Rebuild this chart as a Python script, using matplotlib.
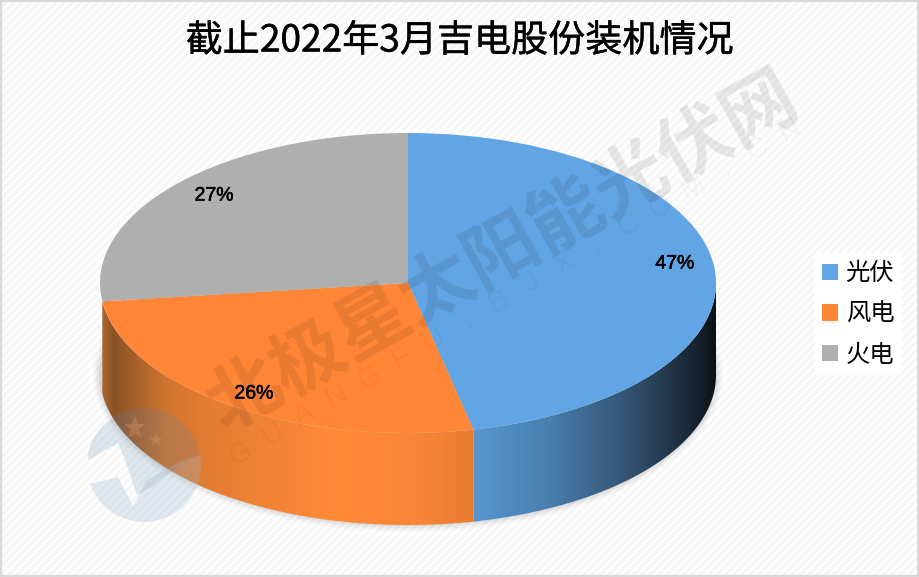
import numpy as np
import matplotlib
matplotlib.use('Agg')
import matplotlib.pyplot as plt
import matplotlib.patheffects as pe
from matplotlib.colors import LinearSegmentedColormap
from matplotlib.patches import Rectangle, Circle, Ellipse, PathPatch
from matplotlib.path import Path
from matplotlib.transforms import Affine2D

plt.rcParams['font.family'] = ['Noto Sans CJK SC', 'DejaVu Sans']
plt.rcParams['hatch.linewidth'] = 2.2

categories = ['光伏', '风电', '火电']
shares = [46.6, 26.45, 26.95]
topColors = ['#62a5e4', '#ff8636', '#afafaf']
title = '截止2022年3月吉电股份装机情况'
watermark = '北极星太阳能光伏网'
watermarkSub = 'GUANGFU.BJX.COM.CN'

# side wall gradients, (position across the wedge, colour)
blueSide = [(0, '#5796ce'), (0.3, '#4a80b0'), (0.65, '#32516f'), (0.88, '#1a2a3a'), (1, '#0a1218')]
orangeSide = [(0, '#a86530'), (0.03, '#8a5226'), (0.17, '#cf752f'), (0.3, '#e67d33'),
              (0.62, '#ff8a38'), (0.85, '#f98637'), (1, '#e87c31')]
sideGradients = [blueSide, orangeSide, None]

W, H = 919, 577
cx, cy, rx, ry = 408, 283, 308, 150
depth = 92 / ry

fig = plt.figure(figsize=(W / 100, H / 100), dpi=100)
# picture pixels, y going down, for the decoration
px = Affine2D().scale(1 / W, -1 / H).translate(0, 1) + fig.transFigure

fig.patches.append(Rectangle((0, 0), W, H, transform=px, facecolor='white', zorder=-2,
                             edgecolor='#f7f7f7', hatch='////', linewidth=0))
fig.patches.append(Rectangle((1, 1), W - 2.5, H - 2.5, transform=px, facecolor='none', zorder=-1,
                             edgecolor='#d9d9d9', linewidth=1.6))

# one data unit is rx pixels across and ry pixels down
ax = fig.add_axes([(cx - 1.25 * rx) / W, 1 - (cy + 2.0 * ry) / H, 2.5 * rx / W, 3.25 * ry / H])
ax.patch.set_alpha(0)

# soft shadow below the wall
for grow, alpha in [(7, 0.02), (5, 0.03), (3, 0.04), (1, 0.05)]:
    ax.add_patch(Ellipse((0, -depth), 2 + grow / rx * 2, 2 + grow / ry * 2, color='black',
                         alpha=alpha, linewidth=0, zorder=0.5))

wedges, texts, autotexts = ax.pie(shares, colors=topColors, startangle=90, counterclock=False,
                                  autopct='%.0f%%', pctdistance=0.875, radius=1,
                                  textprops={'fontsize': 14, 'family': 'Liberation Sans', 'color': 'black'})
for w in wedges:
    w.set_zorder(3)
# small nudges in pixels, the labels do not sit quite on one radius
nudges = [(-1, -5), (2, 4), (8, 0)]
for t, (dx, dy) in zip(autotexts, nudges):
    x, y = t.get_position()
    t.set_position((x + dx / rx, y - dy / ry))
    t.set_zorder(20)
    t.set_path_effects([pe.withStroke(linewidth=0.4, foreground='black')])

# side walls of the wedges that face the viewer
edges = np.cumsum([0] + shares) / sum(shares) * 2 * np.pi
for i, stops in enumerate(sideGradients):
    if stops is None:
        continue
    a0 = max(edges[i], np.pi / 2)
    a1 = min(edges[i + 1], 3 * np.pi / 2)
    t = np.linspace(a0, a1, 200)
    xs, ys = np.sin(t), np.cos(t)
    verts = np.vstack([np.c_[xs, ys], np.c_[xs[::-1], ys[::-1] - depth]])
    wall = PathPatch(Path(np.vstack([verts, verts[0]]), closed=True), transform=ax.transData,
                     facecolor='none', edgecolor='none')
    ax.add_patch(wall)
    x0, x1 = xs.min(), xs.max()
    cmap = LinearSegmentedColormap.from_list('side%d' % i, stops)
    im = ax.imshow(np.linspace(0, 1, 256).reshape(1, -1), cmap=cmap, aspect='auto',
                   extent=(x0, x1, -1 - depth, 1), zorder=2)
    im.set_clip_path(wall)

ax.set_aspect('auto')
ax.set_xlim(-1.25, 1.25)
ax.set_ylim(-2.0, 1.25)
ax.axis('off')

# watermark logo
logoX, logoY, logoR = 144, 465, 57
logoClip = Circle((logoX, logoY), logoR, transform=px)
dome = PathPatch(Path([(80, 400), (210, 400), (210, 452), (180, 465), (150, 488), (137, 495), (125, 460),
                       (118, 443), (88, 460), (80, 400)]),
                 transform=px, facecolor='#5f86ad', alpha=0.2, linewidth=0, zorder=5)
lower = PathPatch(Path([(90, 484), (118, 477), (133, 506), (147, 480), (180, 462), (205, 453), (210, 530),
                        (90, 530), (90, 484)]),
                  transform=px, facecolor='#a0b8d0', alpha=0.3, linewidth=0, zorder=5)
for p in [dome, lower]:
    ax.add_patch(p)
    p.set_clip_path(logoClip)
ax.plot([135], [428], marker='*', markersize=17, color='#c98a5a', alpha=0.5, linewidth=0,
        markeredgewidth=0, transform=px, zorder=5)
ax.plot([156], [440], marker='*', markersize=10, color='#c98a5a', alpha=0.5, linewidth=0,
        markeredgewidth=0, transform=px, zorder=5)

ax.text(503, 253, watermark, transform=px, fontsize=53, fontweight='black', color='black', alpha=0.09,
        rotation=29, rotation_mode='anchor', ha='center', va='center', zorder=6)
subX = np.linspace(240, 790, len(watermarkSub))
subY = np.linspace(453, 130, len(watermarkSub))
for ch, x, y in zip(watermarkSub, subX, subY):
    ax.text(x, y, ch, transform=px, fontsize=21, family='Liberation Sans', color='black', alpha=0.035,
            rotation=30, rotation_mode='anchor', ha='center', va='center', zorder=6)

fig.text(460 / W, 1 - 41 / H, title, fontsize=26.7, ha='center', va='center', color='black',
         path_effects=[pe.withStroke(linewidth=0.3, foreground='black')])

fig.legend(wedges, categories, loc='center left', bbox_to_anchor=(815 / W, 1 - 314 / H), fontsize=17.5,
           frameon=True, facecolor='white', edgecolor='none', framealpha=1, fancybox=False,
           handlelength=0.66, handleheight=0.66, handletextpad=0.3, labelspacing=0.6, borderpad=0.3,
           borderaxespad=0)

fig.savefig('out.png', dpi=100)
